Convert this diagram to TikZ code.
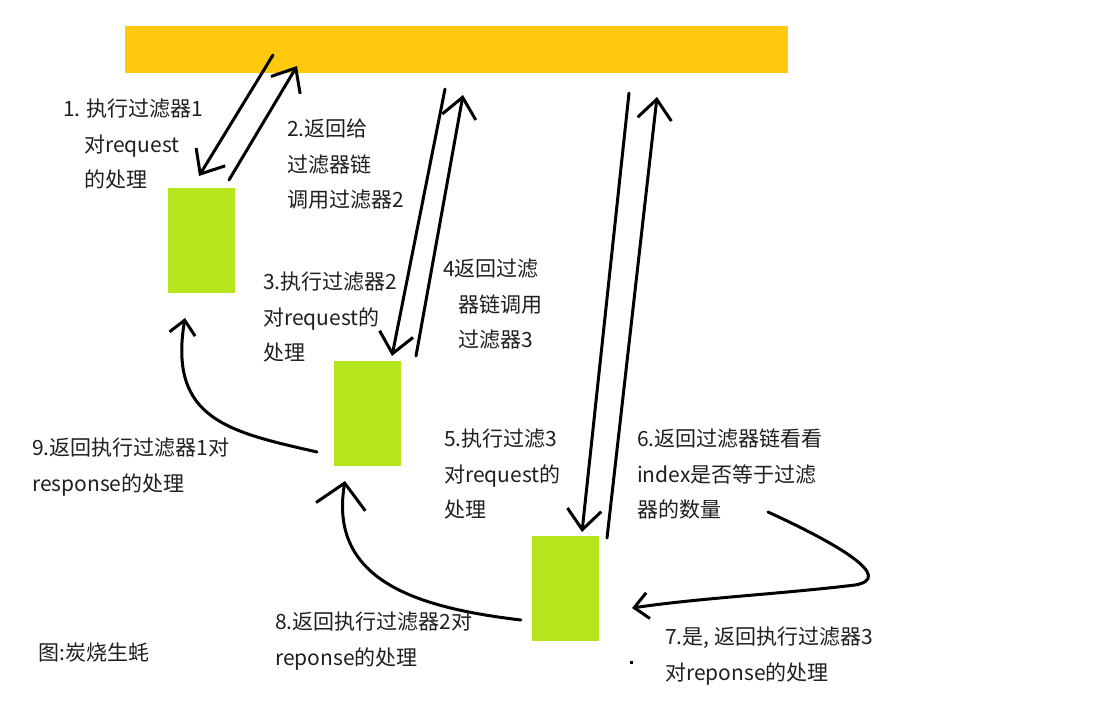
\documentclass[tikz,border=0pt]{standalone}
\usepackage{fontspec}
\setmainfont{Noto Sans CJK SC}
\usetikzlibrary{arrows.meta}
\definecolor{baryellow}{HTML}{FFC90E}
\definecolor{boxgreen}{HTML}{B5E61D}
\tikzset{
  lbl/.style={anchor=north west, inner sep=0pt, align=left, font=\fontsize{21}{35.5}\selectfont, text=black!88},
  gbox/.style={fill=boxgreen, draw=none, minimum width=67pt, minimum height=105pt, inner sep=0pt},
  harrow/.style={line width=3pt, line cap=round, -{Straight Barb[length=20pt,width=34pt]}},
  sharrow/.style={line width=3pt, line cap=round, -{Straight Barb[length=14pt,width=26pt]}},
  barrow/.style={line width=3pt, line cap=round, -{Straight Barb[length=24pt,width=50pt]}},
}
\begin{document}
\begin{tikzpicture}[x=1pt,y=-1pt]
\useasboundingbox (0,0) rectangle (1110,710);
\fill[white] (0,0) rectangle (1110,710);
% chain bar and filters
\node[fill=baryellow, minimum width=663pt, minimum height=47pt, inner sep=0pt] (bar) at (456.5,49.5) {};
\node[gbox] (f1) at (201.5,240.5) {};
\node[gbox] (f2) at (367.5,413) {};
\node[gbox] (f3) at (565.5,588) {};
% connector endpoints
\coordinate (a1s) at (273,55);  \coordinate (a1e) at (199,176);
\coordinate (a2s) at (229,180); \coordinate (a2e) at (297,66);
\coordinate (a3s) at (445,89);  \coordinate (a3e) at (392,356);
\coordinate (a4s) at (416,356); \coordinate (a4e) at (463,95);
\coordinate (a5s) at (629,93);  \coordinate (a5e) at (582,532);
\coordinate (a6s) at (607,538); \coordinate (a6e) at (657,97);
\coordinate (a7s) at (768,512); \coordinate (a7e) at (632,608);
\coordinate (a8s) at (521,620); \coordinate (a8e) at (345,481);
\coordinate (a9s) at (317,452); \coordinate (a9e) at (185,318);
% arrows
\draw[harrow] (a1s) -- (a1e);
\draw[harrow] (a2s) -- (a2e);
\draw[harrow] (a3s) -- (a3e);
\draw[harrow] (a4s) -- (a4e);
\draw[harrow] (a5s) -- (a5e);
\draw[harrow] (a6s) -- (a6e);
\draw[sharrow] (a7s) .. controls (840,545) and (895,578) .. (855,585) .. controls (780,594) and (700,598) .. (a7e);
\draw[barrow] (a8s) .. controls (420,608) and (328,582) .. (a8e);
\draw[sharrow] (a9s) .. controls (230,432) and (168,420) .. (a9e);
% labels
\node[lbl] (t1) at (63,99) {1. 执行过滤器1\\\hspace*{21pt}对request\\\hspace*{21pt}的处理};
\node[lbl] (t2) at (287,119) {2.返回给\\过滤器链\\调用过滤器2};
\node[lbl] (t3) at (263,272) {3.执行过滤器2\\对request的\\处理};
\node[lbl] (t4) at (443,259) {4返回过滤\\\hspace*{15pt}器链调用\\\hspace*{15pt}过滤器3};
\node[lbl] (t5) at (444,429) {5.执行过滤3\\对request的\\处理};
\node[lbl] (t6) at (637,429) {6.返回过滤器链看看\\index是否等于过滤\\器的数量};
\node[lbl] (t7) at (665,627) {7.是, 返回执行过滤器3\\对reponse的处理};
\node[lbl] (t8) at (275,612) {8.返回执行过滤器2对\\reponse的处理};
\node[lbl] (t9) at (32,438) {9.返回执行过滤器1对\\response的处理};
\node[lbl] (cap) at (38,643) {图:炭烧生蚝};
\fill[black] (629.5,660.5) rectangle (633,664);
\end{tikzpicture}
\end{document}
